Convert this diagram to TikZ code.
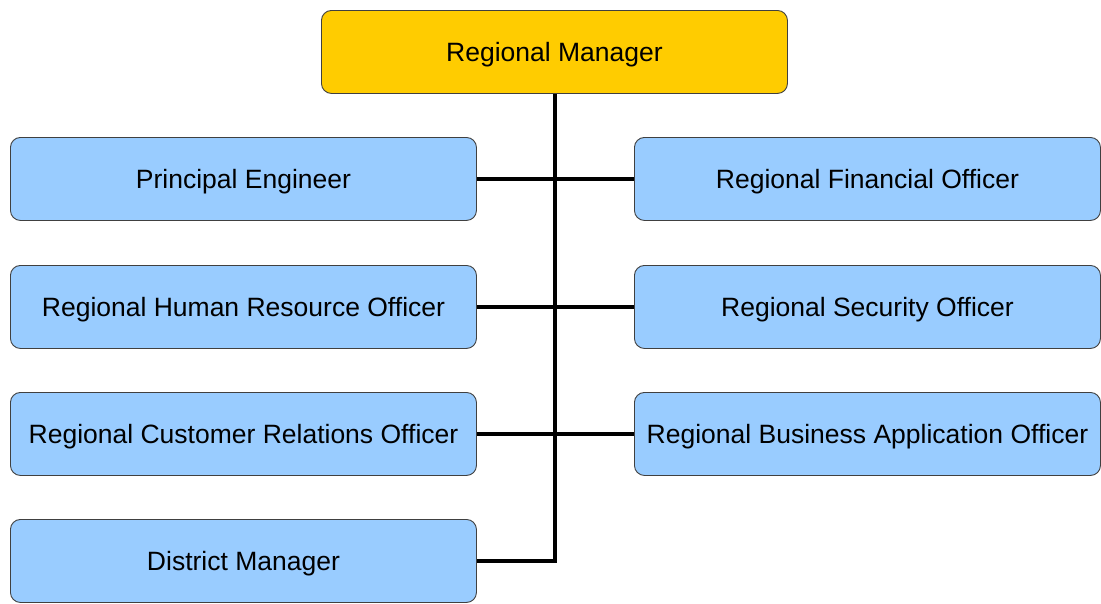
\documentclass[tikz,border=0pt]{standalone}
\usepackage{fontspec}
\setmainfont{Liberation Sans}
\begin{document}
\begin{tikzpicture}[x=1pt,y=-1pt,
  box/.style={draw=black!75,line width=0.9pt,rounded corners=10pt,
    minimum width=466pt,minimum height=83pt,inner sep=0pt,
    text height=24.5pt,text depth=5.2pt,
    font=\fontsize{26.5}{30}\selectfont,anchor=north west},
  staff/.style={box,fill=blueBox},
  head/.style={box,fill=goldBox},
  link/.style={line width=3.2pt,black}]
\definecolor{blueBox}{HTML}{99CCFF}
\definecolor{goldBox}{HTML}{FFCC00}
\useasboundingbox (0,0) rectangle (1101,603);
% top
\node[head] (rm) at (321,10) {Regional Manager};
% left column
\node[staff] (pe)  at (10,137) {Principal Engineer};
\node[staff] (hr)  at (10,265) {Regional Human Resource Officer};
\node[staff] (cr)  at (10,392) {Regional Customer Relations Officer};
\node[staff] (dm)  at (10,519) {District Manager};
% right column
\node[staff] (fo)  at (634,137) {Regional Financial Officer};
\node[staff] (so)  at (634,265) {Regional Security Officer};
\node[staff] (ba)  at (634,392) {Regional Business Application Officer};
% connectors
\coordinate (spine) at (555,561);
\begin{scope}[on background layer/.try]
\draw[link] (rm.south -| spine) -- (spine) -- (spine -| dm.east);
\draw[link] (pe.east) -- (fo.west);
\draw[link] (hr.east) -- (so.west);
\draw[link] (cr.east) -- (ba.west);
\end{scope}
\end{tikzpicture}
\end{document}
